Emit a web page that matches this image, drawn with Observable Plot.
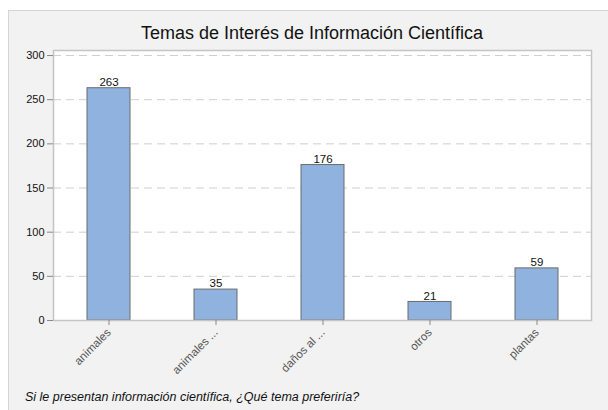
<!DOCTYPE html>
<html>
<head>
<meta charset="utf-8">
<script src="https://cdn.jsdelivr.net/npm/d3@7"></script>
<script src="https://cdn.jsdelivr.net/npm/@observablehq/plot@0.6"></script>
<style>
  html, body { margin: 0; padding: 0; background: #ffffff; }
  #wrap { position: relative; width: 608px; height: 410px; overflow: hidden; font-family: "Liberation Sans", Arial, sans-serif; }
  #panel { position: absolute; left: 8px; top: 10px; width: 620px; height: 420px; background: #f2f2f2; border-left: 1px solid #d4d4d4; border-top: 1px solid #d4d4d4; }
  #title { position: absolute; left: 0; width: 624px; top: 23px; text-align: center; font-size: 18px; color: #111; }
  #caption { position: absolute; left: 25px; top: 390px; font-size: 12.5px; font-style: italic; color: #111; }
  #chart { position: absolute; left: 0; top: 0; }
</style>
</head>
<body>
<div id="wrap">
  <div id="panel"></div>
  <div id="title">Temas de Interés de Información Científica</div>
  <div id="chart"></div>
  <div id="caption">Si le presentan información científica, ¿Qué tema preferiría?</div>
</div>
<script>
const categories = ["animales", "animales ...", "daños al ...", "otros", "plantas"];
const counts = [263, 35, 176, 21, 59];
const yTicks = [0, 50, 100, 150, 200, 250, 300];

const data = categories.map((c, i) => ({category: c, count: counts[i]}));

const chart = Plot.plot({
  width: 608,
  height: 410,
  marginLeft: 53,
  marginRight: 17,
  marginTop: 50,
  marginBottom: 90,
  style: {background: "transparent", fontFamily: "Liberation Sans, Arial, sans-serif"},
  x: {domain: categories, paddingInner: 0.6, paddingOuter: 0.3, label: null},
  y: {domain: [0, 305.7], label: null},
  marks: [
    Plot.frame({fill: "white", stroke: "none"}),
    Plot.gridY(yTicks.filter(d => d > 0), {stroke: "#cfcfcf", strokeOpacity: 1, strokeDasharray: "8,5", strokeWidth: 1}),
    Plot.barY(data, {x: "category", y: "count", fill: "#8fb3de", stroke: "#6a6a6a", strokeWidth: 1}),
    Plot.text(data, {x: "category", y: "count", text: d => String(d.count), dy: -6, fontSize: 11.5, fill: "#111"}),
    Plot.frame({stroke: "#c4c4c4", strokeWidth: 1.5}),
    Plot.axisY({ticks: yTicks, tickSize: 6, tickPadding: 3, fontSize: 11, stroke: "#888", fill: "#111", label: null}),
    Plot.axisX({tickSize: 5, tickPadding: 5, tickRotate: -45, fontSize: 11.5, stroke: "#888", fill: "#555", label: null})
  ]
});
document.getElementById("chart").appendChild(chart);
</script>
</body>
</html>
